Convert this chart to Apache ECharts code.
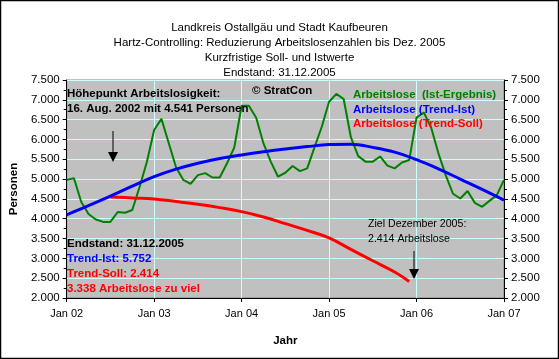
<!DOCTYPE html>
<html>
<head>
<meta charset="utf-8">
<script src="https://cdn.jsdelivr.net/npm/echarts@6/dist/echarts.min.js"></script>
<style>
html,body{margin:0;padding:0;background:#fff;}
#c{width:559px;height:359px;}
</style>
</head>
<body>
<div id="c"></div>
<script>
// ---- data ----
const titleLines = [
  'Landkreis Ostallgäu und Stadt Kaufbeuren',
  'Hartz-Controlling: Reduzierung Arbeitslosenzahlen bis Dez. 2005',
  'Kurzfristige Soll- und Istwerte',
  'Endstand: 31.12.2005'
];
const months = [
  'Jan 02','Feb 02','Mrz 02','Apr 02','Mai 02','Jun 02','Jul 02','Aug 02','Sep 02','Okt 02','Nov 02','Dez 02',
  'Jan 03','Feb 03','Mrz 03','Apr 03','Mai 03','Jun 03','Jul 03','Aug 03','Sep 03','Okt 03','Nov 03','Dez 03',
  'Jan 04','Feb 04','Mrz 04','Apr 04','Mai 04','Jun 04','Jul 04','Aug 04','Sep 04','Okt 04','Nov 04','Dez 04',
  'Jan 05','Feb 05','Mrz 05','Apr 05','Mai 05','Jun 05','Jul 05','Aug 05','Sep 05','Okt 05','Nov 05','Dez 05',
  'Jan 06','Feb 06','Mrz 06','Apr 06','Mai 06','Jun 06','Jul 06','Aug 06','Sep 06','Okt 06','Nov 06','Dez 06',
  'Jan 07'
];
const seriesNames = ['Arbeitslose  (Ist-Ergebnis)', 'Arbeitslose (Trend-Ist)', 'Arbeitslose (Trend-Soll)'];
const istValues = [
  4980, 5020, 4420, 4120, 3980, 3920, 3920, 4170, 4150, 4220, 4800, 5430,
  6240, 6520, 5910, 5300, 4980, 4880, 5100, 5150, 5040, 5040, 5400, 5800,
  6850, 6850, 6550, 5900, 5440, 5060, 5160, 5330, 5200, 5270, 5800, 6320,
  6950, 7150, 7020, 6050, 5580, 5440, 5440, 5570, 5340, 5270, 5420, 5480,
  6550, 6680, 6300, 5650, 5100, 4630, 4510, 4700, 4400, 4300, 4450, 4590,
  4980
];
const trendIstMonths = ['Jan 02','Apr 02','Jul 02','Okt 02','Jan 03','Apr 03','Jul 03','Okt 03','Jan 04','Apr 04','Jul 04','Okt 04','Jan 05','Apr 05','Jul 05','Okt 05','Jan 06','Apr 06','Jul 06','Okt 06','Jan 07'];
const trendIstValues = [4100, 4330, 4570, 4820, 5060, 5250, 5400, 5520, 5610, 5690, 5760, 5820, 5870, 5880, 5800, 5680, 5490, 5260, 5000, 4740, 4470];
const trendSollMonths = ['Jul 02','Okt 02','Jan 03','Apr 03','Jul 03','Okt 03','Jan 04','Apr 04','Jul 04','Okt 04','Jan 05','Apr 05','Jul 05','Okt 05','Dez 05'];
const trendSollValues = [4550, 4525, 4500, 4435, 4365, 4280, 4180, 4045, 3875, 3705, 3515, 3225, 2940, 2655, 2414];
const yMin = 2000, yMax = 7500, yStep = 500;

// ---- chart ----
const FONT = '"Liberation Sans", Arial, sans-serif';
const fmt = v => String(v).replace(/\B(?=(\d{3})+(?!\d))/g, '.');
const chart = echarts.init(document.getElementById('c'), null, {renderer: 'canvas'});

const colors = ['#008000', '#0000FF', '#FF0000'];
const yAxisCommon = {
  type: 'value', min: yMin, max: yMax, interval: yStep,
  axisLine: {show: true, lineStyle: {color: '#000', width: 1}},
  axisTick: {show: true, inside: false, length: 4, lineStyle: {color: '#000'}},
  minorTick: {show: true, splitNumber: 2, length: 3, lineStyle: {color: '#000'}},
  axisLabel: {formatter: fmt, color: '#000', fontFamily: FONT, fontSize: 11.5, margin: 7}
};

chart.setOption({
  animation: false,
  backgroundColor: '#fff',
  textStyle: {fontFamily: FONT},
  title: {
    text: titleLines.join('\n'),
    left: 'center', top: 15,
    textStyle: {fontFamily: FONT, fontSize: 11.5, fontWeight: 'normal', color: '#000', lineHeight: 15}
  },
  legend: {
    orient: 'vertical', left: 343, top: 83,
    icon: 'none', itemWidth: 0, itemHeight: 14, itemGap: 0.5,
    data: seriesNames.map((n, i) => ({name: n, textStyle: {color: colors[i]}})),
    textStyle: {fontFamily: FONT, fontSize: 11.5, fontWeight: 'bold', lineHeight: 14},
    selectedMode: false
  },
  grid: {
    left: 62, right: 55, top: 80, bottom: 61,
    show: true, backgroundColor: '#C0C0C0', borderColor: '#808080', borderWidth: 1
  },
  xAxis: {
    type: 'category', data: months, boundaryGap: false,
    name: 'Jahr', nameLocation: 'middle', nameGap: 37,
    nameTextStyle: {fontFamily: FONT, fontSize: 11.5, fontWeight: 'bold', color: '#000'},
    axisLine: {show: true, lineStyle: {color: '#000'}},
    axisTick: {show: true, interval: 11, length: 4, lineStyle: {color: '#000'}},
    axisLabel: {interval: 11, color: '#000', fontFamily: FONT, fontSize: 11, margin: 10},
    splitLine: {show: true, interval: 11, lineStyle: {color: '#CCFFFF', width: 1}}
  },
  yAxis: [
    Object.assign({}, yAxisCommon, {
      position: 'left',
      name: 'Personen', nameLocation: 'middle', nameRotate: 90, nameGap: 46,
      nameTextStyle: {fontFamily: FONT, fontSize: 11.5, fontWeight: 'bold', color: '#000'},
      splitLine: {show: true, lineStyle: {color: '#CCFFFF', width: 1}}
    }),
    Object.assign({}, yAxisCommon, {
      position: 'right',
      splitLine: {show: false}
    })
  ],
  series: [
    {
      name: seriesNames[0], type: 'line', data: istValues,
      showSymbol: false, symbol: 'none',
      lineStyle: {color: colors[0], width: 2}, itemStyle: {color: colors[0]}, z: 3
    },
    {
      name: seriesNames[1], type: 'line',
      data: trendIstMonths.map((m, i) => [m, trendIstValues[i]]),
      showSymbol: false, symbol: 'none', smooth: 0.4,
      lineStyle: {color: colors[1], width: 3}, itemStyle: {color: colors[1]}, z: 4
    },
    {
      name: seriesNames[2], type: 'line',
      data: trendSollMonths.map((m, i) => [m, trendSollValues[i]]),
      showSymbol: false, symbol: 'none', smooth: 0.4,
      lineStyle: {color: colors[2], width: 3}, itemStyle: {color: colors[2]}, z: 3
    }
  ],
  graphic: [
    {type: 'rect', shape: {x: 0.5, y: 0.5, width: 558, height: 358}, style: {fill: null, stroke: '#000', lineWidth: 1.5}, silent: true, z: 100},
    {type: 'text', left: 67, top: 87.5, style: {text: 'Höhepunkt Arbeitslosigkeit:', font: 'bold 11.5px ' + FONT, fill: '#000'}, z: 50},
    {type: 'text', left: 67, top: 103, style: {text: '16. Aug. 2002 mit 4.541 Personen', font: 'bold 11.5px ' + FONT, fill: '#000'}, z: 50},
    {type: 'text', left: 252, top: 84.5, style: {text: '© StratCon', font: 'bold 11.5px ' + FONT, fill: '#000'}, z: 50},
    {type: 'text', left: 67, top: 238, style: {text: 'Endstand: 31.12.2005', font: 'bold 11.5px ' + FONT, fill: '#000'}, z: 50},
    {type: 'text', left: 67, top: 253, style: {text: 'Trend-Ist: 5.752', font: 'bold 11.5px ' + FONT, fill: '#0000FF'}, z: 50},
    {type: 'text', left: 67, top: 267.5, style: {text: 'Trend-Soll: 2.414', font: 'bold 11.5px ' + FONT, fill: '#FF0000'}, z: 50},
    {type: 'text', left: 67, top: 282.5, style: {text: '3.338 Arbeitslose zu viel', font: 'bold 11.5px ' + FONT, fill: '#FF0000'}, z: 50},
    {type: 'text', left: 368, top: 219, style: {text: 'Ziel Dezember 2005:', font: '10.6px ' + FONT, fill: '#000'}, z: 50},
    {type: 'text', left: 368, top: 234, style: {text: '2.414 Arbeitslose', font: '10.6px ' + FONT, fill: '#000'}, z: 50},
    {type: 'line', shape: {x1: 113, y1: 131, x2: 113, y2: 153}, style: {stroke: '#000', lineWidth: 1}, z: 50},
    {type: 'polygon', shape: {points: [[108, 152], [118, 152], [113, 162]]}, style: {fill: '#000'}, z: 50},
    {type: 'line', shape: {x1: 414, y1: 251, x2: 414, y2: 270}, style: {stroke: '#000', lineWidth: 1}, z: 50},
    {type: 'polygon', shape: {points: [[409, 269], [419, 269], [414, 279]]}, style: {fill: '#000'}, z: 50}
  ]
});
</script>
</body>
</html>
